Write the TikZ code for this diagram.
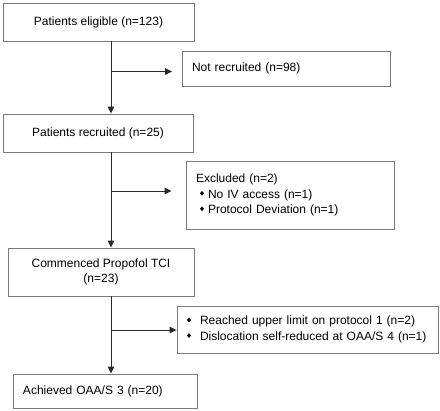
\documentclass[tikz,border=0pt]{standalone}
\usepackage{fontspec}
\setmainfont{Liberation Sans}
\usetikzlibrary{arrows.meta}
\definecolor{boxgray}{HTML}{7A7A7A}
\definecolor{linegray}{HTML}{2A2A2A}
\newcommand\bul{\raisebox{0.2em}{\tikz\fill[black] (0,0)--(2pt,2.4pt)--(4pt,0)--(2pt,-2.4pt)--cycle;}}
\begin{document}
\begin{tikzpicture}[x=1pt,y=1pt,
  box/.style={draw=boxgray, line width=0.9pt, rectangle, inner sep=0pt,
    font=\fontsize{12}{15.5}\selectfont},
  cbox/.style={box, align=center},
  lbox/.style={box, align=left, text width=#1, inner xsep=10pt},
  arr/.style={draw=linegray, line width=0.95pt, -{Triangle[length=7pt,width=6.5pt]}}]
\useasboundingbox (0,0) rectangle (440,-411);
\fill[white] (0,0) rectangle (440,-411);

\node[cbox, minimum width=191, minimum height=38] (b1) at (98.5,-22) {Patients eligible (n=123)};
\node[lbox=188, minimum width=208, minimum height=35] (nr) at (286,-68.5) {Not recruited (n=98)};
\node[cbox, minimum width=190, minimum height=38] (b2) at (98,-133) {Patients recruited (n=25)};
\node[lbox=188, minimum width=208, minimum height=68] (ex) at (290,-195) {Excluded (n=2)\\\hspace*{4pt}\bul\hspace{4pt}No IV access (n=1)\\\hspace*{4pt}\bul\hspace{4pt}Protocol Deviation (n=1)};
\node[cbox, minimum width=186, minimum height=48] (b3) at (101,-272) {Commenced Propofol TCI\\(n=23)};
\node[lbox=241, minimum width=261, minimum height=47] (dr) at (307.5,-329.5) {\bul\hspace{9pt}Reached upper limit on protocol 1 (n=2)\\\bul\hspace{9pt}Dislocation self-reduced at OAA/S 4 (n=1)};
\node[lbox=164, minimum width=184, minimum height=34] (b4) at (105,-391) {Achieved OAA/S 3 (n=20)};

\coordinate (trunk) at (111,0);
\coordinate (j1) at (111,-71.5);
\coordinate (j2) at (111,-191);
\coordinate (j3) at (111,-330);

\draw[arr] (b1.south -| trunk) -- (b2.north -| trunk);
\draw[arr] (b2.south -| trunk) -- (b3.north -| trunk);
\draw[arr] (b3.south -| trunk) -- (b4.north -| trunk);
\draw[arr, shorten >=9.5pt] (j1) -- (j1 -| nr.west);
\draw[arr, shorten >=14pt] (j2) -- (j2 -| ex.west);
\draw[arr] (j3) -- (j3 -| dr.west);
\end{tikzpicture}
\end{document}
